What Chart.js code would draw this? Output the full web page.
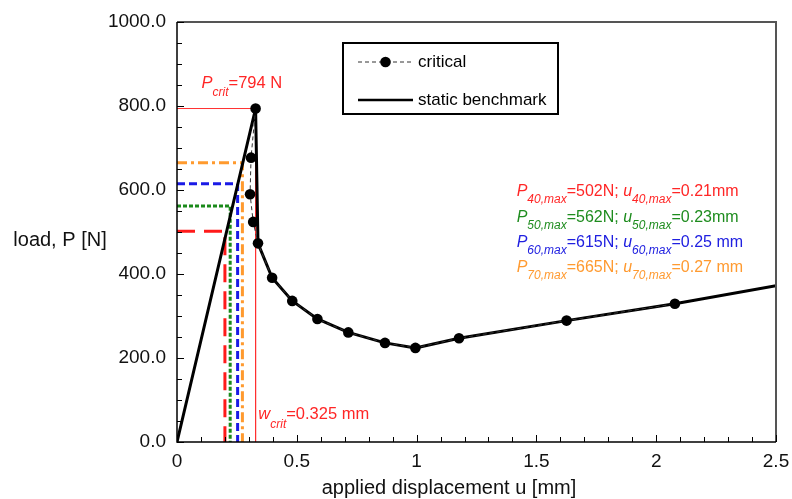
<!DOCTYPE html>
<html><head><meta charset="utf-8">
<script src="https://cdn.jsdelivr.net/npm/chart.js@4/dist/chart.umd.min.js"></script>
<style>html,body{margin:0;padding:0;background:#fff}#wrap{width:792px;height:499px;position:relative}</style>
</head><body><div id="wrap"><canvas id="c" width="792" height="499"></canvas></div>
<script>
// ---- data ----
const criticalU = [0.328, 0.309, 0.305, 0.318, 0.338, 0.397, 0.481, 0.586, 0.715, 0.868, 0.995, 1.177, 1.626, 2.078];
const criticalP = [794, 677, 590, 524, 473, 391, 336, 293, 261, 236, 224, 247, 289, 329];
const staticU = [0, 0.328, 0.338, 0.397, 0.481, 0.586, 0.715, 0.868, 0.995, 1.177, 1.626, 2.078, 2.5];
const staticP = [0, 794, 473, 391, 336, 293, 261, 236, 224, 247, 289, 329, 372];
const levels = ['40', '50', '60', '70'];
const pMax = [502, 562, 615, 665];
const uMax = ['0.21mm', '0.23mm', '0.25 mm', '0.27 mm'];
const uDrawn = [0.20, 0.222, 0.253, 0.273];
const pCrit = 794;
const wCrit = 0.325;
const wCritDrawn = 0.328;
const xLabelValues = [0, 0.5, 1, 1.5, 2, 2.5];
const yLabelValues = [0, 200, 400, 600, 800, 1000];

const FONT = '"Liberation Sans", Arial, Helvetica, sans-serif';
const levelColors = ['#ff1a1a', '#1a8a1a', '#1a1ae6', '#ff9a2e'];
const levelTextColors = ['#ff2626', '#1e8c1e', '#2020e0', '#ff9a30'];
const levelDash = [[18, 9], [4, 2], [8, 4], [10, 4, 3, 4]];

const zip = (xs, ys) => xs.map((x, i) => ({x: x, y: ys[i]}));

const datasets = [
  {label: 'critical', data: zip(criticalU, criticalP), showLine: true, borderColor: '#333', borderWidth: 1,
   borderDash: [4, 3], pointRadius: 5.3, pointBackgroundColor: '#000', pointBorderWidth: 0, pointHoverRadius: 5.3},
  {label: 'static benchmark', data: zip(staticU, staticP), showLine: true, borderColor: '#000', borderWidth: 3,
   pointRadius: 0, borderJoinStyle: 'round'},
  {label: 'crit', data: [{x: 0, y: pCrit}, {x: wCritDrawn, y: pCrit}, {x: wCritDrawn, y: 0}], showLine: true,
   borderColor: '#ff3030', borderWidth: 1, pointRadius: 0}
];
levels.forEach((lv, i) => {
  datasets.push({label: 'P' + lv, data: [{x: 0, y: pMax[i]}, {x: uDrawn[i], y: pMax[i]}, {x: uDrawn[i], y: 0}],
    showLine: true, borderColor: levelColors[i], borderWidth: 3, borderDash: levelDash[i], pointRadius: 0});
});

function rich(ctx, x, y, parts, color) {
  ctx.fillStyle = color;
  for (const p of parts) {
    ctx.font = (p.it ? 'italic ' : '') + p.s + 'px ' + FONT;
    ctx.fillText(p.t, x, y + (p.dy || 0));
    x += ctx.measureText(p.t).width;
  }
}

const deco = {
  id: 'deco',
  afterDatasetsDraw(chart) {
    const ctx = chart.ctx, xs = chart.scales.x, ys = chart.scales.y, a = chart.chartArea;
    ctx.save();
    // frame
    ctx.strokeStyle = '#555'; ctx.lineWidth = 2;
    ctx.beginPath(); ctx.moveTo(a.left, a.top); ctx.lineTo(a.right, a.top); ctx.lineTo(a.right, a.bottom); ctx.stroke();
    ctx.strokeStyle = '#000'; ctx.lineWidth = 1.5;
    ctx.beginPath(); ctx.moveTo(a.left, a.top); ctx.lineTo(a.left, a.bottom); ctx.lineTo(a.right, a.bottom); ctx.stroke();
    // inward ticks
    ctx.lineWidth = 1;
    for (let i = 0; i <= 25; i++) {
      const px = Math.round(xs.getPixelForValue(i / 10)) + 0.5;
      const len = i % 5 === 0 ? 7 : 5;
      ctx.beginPath(); ctx.moveTo(px, a.bottom); ctx.lineTo(px, a.bottom - len); ctx.stroke();
    }
    for (let i = 0; i <= 20; i++) {
      const py = Math.round(ys.getPixelForValue(i * 50)) + 0.5;
      const len = i % 4 === 0 ? 7 : 5;
      ctx.beginPath(); ctx.moveTo(a.left, py); ctx.lineTo(a.left + len, py); ctx.stroke();
    }
    // legend
    ctx.strokeStyle = '#000'; ctx.lineWidth = 2;
    ctx.strokeRect(343, 43, 215, 71);
    ctx.lineWidth = 1; ctx.setLineDash([4, 3]); ctx.strokeStyle = '#333';
    ctx.beginPath(); ctx.moveTo(358, 62); ctx.lineTo(413, 62); ctx.stroke();
    ctx.setLineDash([]);
    ctx.fillStyle = '#000';
    ctx.beginPath(); ctx.arc(385.5, 62, 5.3, 0, Math.PI * 2); ctx.fill();
    ctx.lineWidth = 2.5; ctx.strokeStyle = '#000';
    ctx.beginPath(); ctx.moveTo(358, 100); ctx.lineTo(413, 100); ctx.stroke();
    ctx.font = '17px ' + FONT; ctx.textBaseline = 'middle'; ctx.textAlign = 'left';
    ctx.fillText(datasets[0].label, 418, 62);
    ctx.fillText(datasets[1].label, 418, 100);
    // axis titles
    ctx.font = '20px ' + FONT; ctx.textAlign = 'center'; ctx.fillStyle = '#111';
    ctx.fillText('load, P [N]', 60, 240);
    ctx.fillText('applied displacement u [mm]', 449, 488);
    // annotations
    ctx.textAlign = 'left'; ctx.textBaseline = 'alphabetic';
    rich(ctx, 201.5, 88, [{t: 'P', it: 1, s: 16.5}, {t: 'crit', it: 1, s: 12, dy: 8}, {t: '=' + pCrit + ' N', s: 16.5}], '#ff2626');
    rich(ctx, 258.3, 419, [{t: 'w', it: 1, s: 16.5}, {t: 'crit', it: 1, s: 12, dy: 9}, {t: '=' + wCrit + ' mm', s: 16.5}], '#ff2626');
    const bases = [196, 222, 247, 272];
    levels.forEach((lv, i) => {
      rich(ctx, 516.7, bases[i], [
        {t: 'P', it: 1, s: 16}, {t: lv + ',max', it: 1, s: 12, dy: 7}, {t: '=' + pMax[i] + 'N; ', s: 16},
        {t: 'u', it: 1, s: 16}, {t: lv + ',max', it: 1, s: 12, dy: 7}, {t: '=' + uMax[i], s: 16}
      ], levelTextColors[i]);
    });
    ctx.restore();
  }
};

new Chart(document.getElementById('c'), {
  type: 'scatter',
  data: {datasets: datasets},
  options: {
    responsive: false, animation: false, devicePixelRatio: 1,
    layout: {padding: {left: 0, right: 16, top: 22, bottom: 0}},
    plugins: {legend: {display: false}, tooltip: {enabled: false}},
    scales: {
      x: {
        type: 'linear', min: 0, max: 2.5,
        grid: {display: false, drawTicks: false}, border: {display: false},
        ticks: {
          stepSize: 0.1, autoSkip: false, maxRotation: 0, padding: 8, color: '#111',
          font: {family: FONT, size: 19},
          callback: v => { const m = xLabelValues.find(t => Math.abs(t - v) < 1e-6); return m === undefined ? '' : String(m); }
        },
        afterFit: s => { s.height = 57; s.paddingLeft = 0; s.paddingRight = 0; }
      },
      y: {
        min: 0, max: 1000,
        grid: {display: false, drawTicks: false}, border: {display: false},
        ticks: {
          stepSize: 50, autoSkip: false, padding: 11, color: '#111',
          font: {family: FONT, size: 19},
          callback: v => { const m = yLabelValues.find(t => Math.abs(t - v) < 1e-6); return m === undefined ? '' : m.toFixed(1); }
        },
        afterFit: s => { s.width = 177; s.paddingTop = 0; s.paddingBottom = 0; }
      }
    }
  },
  plugins: [deco]
});
</script>
</body></html>
